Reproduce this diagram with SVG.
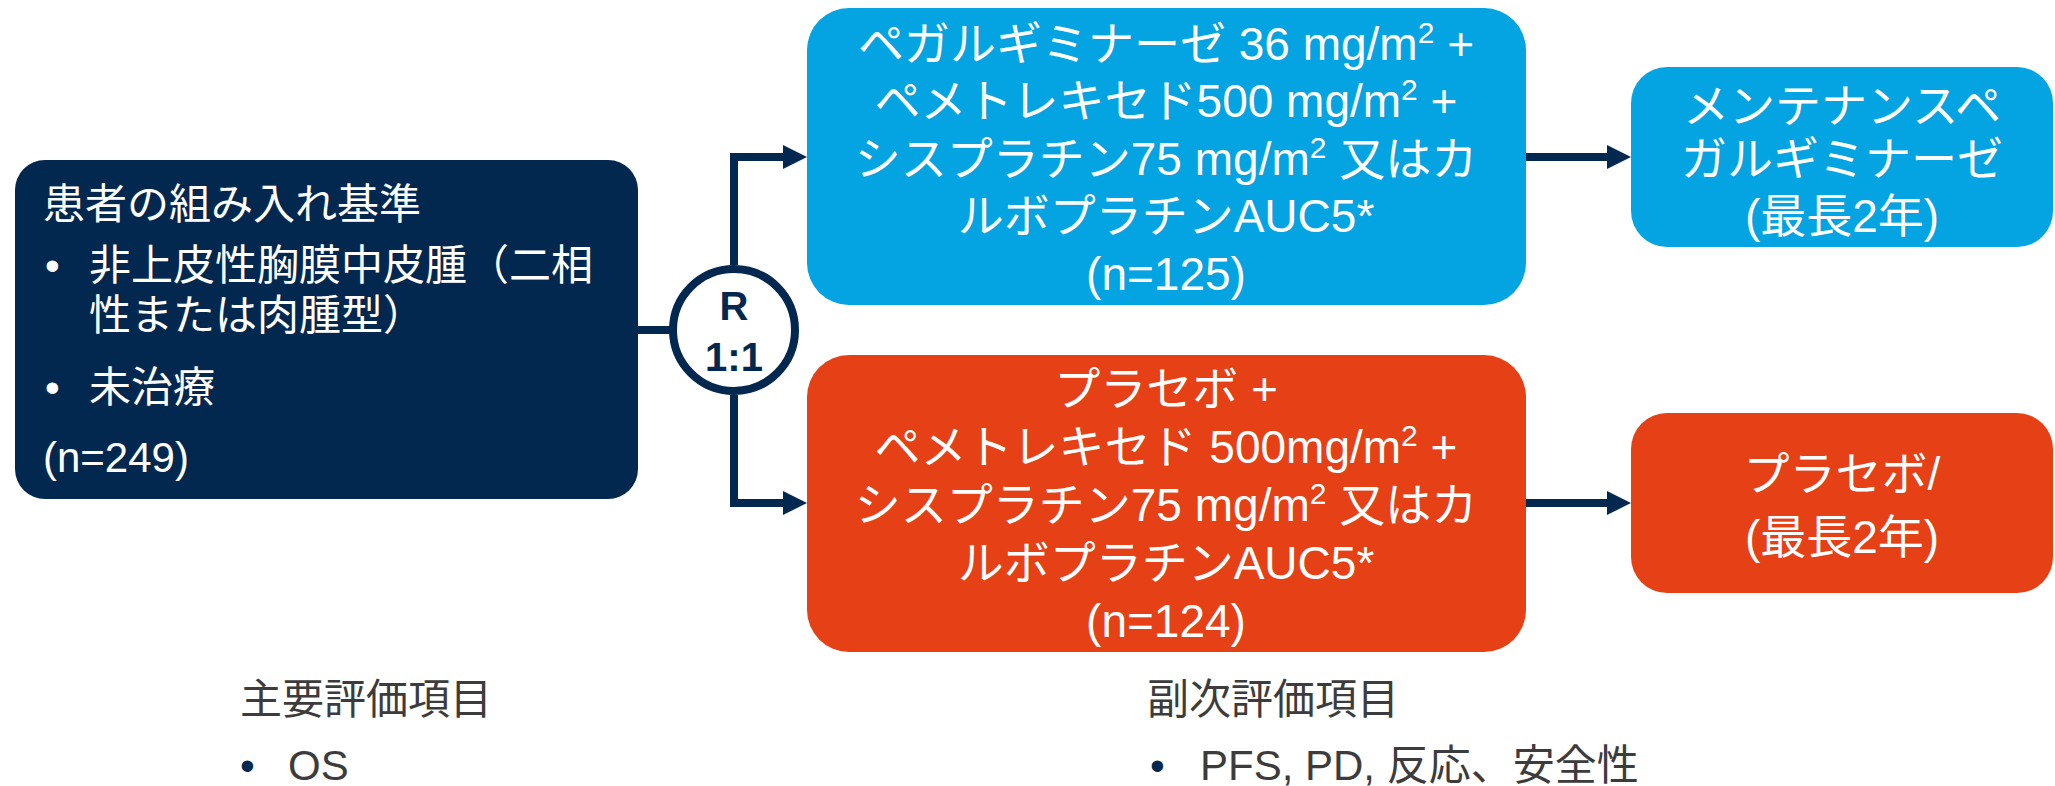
<svg xmlns="http://www.w3.org/2000/svg" width="2055" height="786" viewBox="0 0 2055 786">
<style>
.t{font-family:"Liberation Sans","Noto Sans CJK JP",sans-serif;fill:#ffffff}
.c{text-anchor:middle}
.b{font-family:"Liberation Sans","Noto Sans CJK JP",sans-serif;fill:#3c3c3c;font-size:42px}
.dot{font-family:"Liberation Sans",sans-serif;fill:#03284f;font-size:42px}
.conn{fill:none;stroke:#03284f;stroke-width:8}
</style>
<defs>
<marker id="ah" markerUnits="userSpaceOnUse" markerWidth="24" markerHeight="24" refX="3" refY="12" orient="auto">
<path d="M0,0 L24,12 L0,24 z" fill="#03284f"/>
</marker>
</defs>
<g id="connectors">
<line class="conn" x1="638" y1="330" x2="673" y2="330"/>
<path class="conn" d="M734,265 V157 H786" marker-end="url(#ah)"/>
<path class="conn" d="M734,395 V503 H786" marker-end="url(#ah)"/>
<line class="conn" x1="1526" y1="157" x2="1610" y2="157" marker-end="url(#ah)"/>
<line class="conn" x1="1526" y1="503" x2="1610" y2="503" marker-end="url(#ah)"/>
</g>
<g id="criteria">
<rect x="15" y="160" width="623" height="339" rx="30" fill="#03284f"/>
<text class="t" font-size="42" x="43" y="219">患者の組み入れ基準</text>
<text class="t" font-size="42" x="45" y="280">•</text>
<text class="t" font-size="42" x="89" y="280">非上皮性胸膜中皮腫（二相</text>
<text class="t" font-size="42" x="89" y="330">性または肉腫型）</text>
<text class="t" font-size="42" x="45" y="402">•</text>
<text class="t" font-size="42" x="89" y="402">未治療</text>
<text class="t" font-size="42" x="43" y="472">(n=249)</text>
</g>
<g id="randomize">
<circle cx="734" cy="330" r="61" fill="#ffffff" stroke="#03284f" stroke-width="8"/>
<text x="734" y="320" text-anchor="middle" font-family="Liberation Sans, sans-serif" font-weight="bold" font-size="40" fill="#03284f">R</text>
<text x="734" y="371" text-anchor="middle" font-family="Liberation Sans, sans-serif" font-weight="bold" font-size="40" fill="#03284f">1:1</text>
</g>
<g id="arm-pegargiminase">
<rect x="807" y="8" width="719" height="297" rx="42" fill="#04a3e1"/>
<text class="t c" font-size="46" x="1166" y="60">ペガルギミナーゼ 36 mg/m<tspan font-size="30" dy="-17">2</tspan><tspan dy="17"> +</tspan></text>
<text class="t c" font-size="46" x="1166" y="117">ペメトレキセド500 mg/m<tspan font-size="30" dy="-17">2</tspan><tspan dy="17"> +</tspan></text>
<text class="t c" font-size="46" x="1166" y="175">シスプラチン75 mg/m<tspan font-size="30" dy="-17">2</tspan><tspan dy="17"> 又はカ</tspan></text>
<text class="t c" font-size="46" x="1166" y="232">ルボプラチンAUC5*</text>
<text class="t c" font-size="46" x="1166" y="290">(n=125)</text>
</g>
<g id="arm-placebo">
<rect x="807" y="355" width="719" height="297" rx="42" fill="#e54016"/>
<text class="t c" font-size="46" x="1166" y="405">プラセボ +</text>
<text class="t c" font-size="46" x="1166" y="463">ペメトレキセド 500mg/m<tspan font-size="30" dy="-17">2</tspan><tspan dy="17"> +</tspan></text>
<text class="t c" font-size="46" x="1166" y="521">シスプラチン75 mg/m<tspan font-size="30" dy="-17">2</tspan><tspan dy="17"> 又はカ</tspan></text>
<text class="t c" font-size="46" x="1166" y="579">ルボプラチンAUC5*</text>
<text class="t c" font-size="46" x="1166" y="637">(n=124)</text>
</g>
<g id="maintenance-pegargiminase">
<rect x="1631" y="67" width="422" height="180" rx="36" fill="#04a3e1"/>
<text class="t c" font-size="46" x="1842" y="122">メンテナンスペ</text>
<text class="t c" font-size="46" x="1842" y="175">ガルギミナーゼ</text>
<text class="t c" font-size="46" x="1842" y="232">(最長2年)</text>
</g>
<g id="maintenance-placebo">
<rect x="1631" y="413" width="422" height="180" rx="36" fill="#e54016"/>
<text class="t c" font-size="46" x="1842" y="490">プラセボ/</text>
<text class="t c" font-size="46" x="1842" y="553">(最長2年)</text>
</g>
<g id="primary-endpoint">
<text class="b" x="240" y="714">主要評価項目</text>
<text class="dot" x="240" y="780">•</text>
<text class="b" x="288" y="780">OS</text>
</g>
<g id="secondary-endpoint">
<text class="b" x="1147" y="714">副次評価項目</text>
<text class="dot" x="1150" y="780">•</text>
<text class="b" x="1200" y="780">PFS, PD, 反応、安全性</text>
</g>
</svg>
